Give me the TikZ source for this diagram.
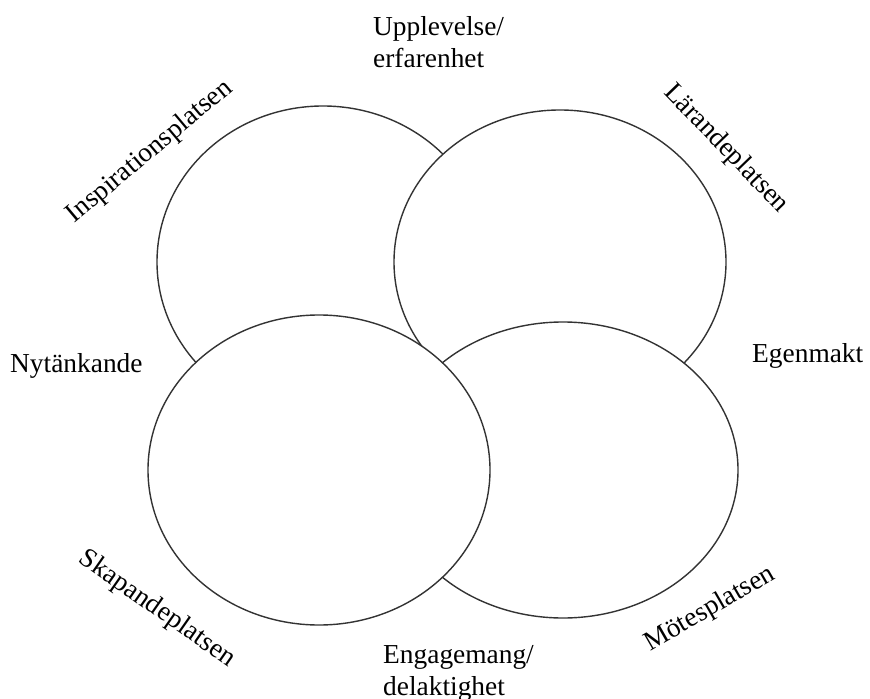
\documentclass[tikz,border=0pt]{standalone}
\usepackage{fontspec}
\setmainfont{Liberation Serif}
\usetikzlibrary{shapes.geometric}
\begin{document}
\begin{tikzpicture}[x=1bp,y=-1bp,
  place/.style={ellipse, draw=black!80, line width=1.4bp, fill=white, inner sep=0pt},
  lbl/.style={font=\fontsize{27.5}{32}\selectfont, inner sep=0pt, text=black},
  mlbl/.style={lbl, align=left, anchor=north west}]
\useasboundingbox (0,0) rectangle (870,699);
% circles (drawn in stacking order)
\node[place, minimum width=332bp, minimum height=312bp] (tl) at (323,262) {};
\node[place, minimum width=332bp, minimum height=304bp] (tr) at (560,262) {};
\node[place, minimum width=350bp, minimum height=296bp] (br) at (563,470) {};
\node[place, minimum width=342bp, minimum height=310bp] (bl) at (319,470) {};
% labels
\node[mlbl] (up) at (373,16) {Upplevelse/\\erfarenhet};
\node[mlbl] (en) at (383,645) {Engagemang/\\delaktighet};
\node[lbl, anchor=base west] (ny) at (10,372) {Nytänkande};
\node[lbl, anchor=base west] (eg) at (752,362) {Egenmakt};
\node[lbl, rotate=40] (ins) at (150,152) {Inspirationsplatsen};
\node[lbl, rotate=-46] (lar) at (726,149) {Lärandeplatsen};
\node[lbl, rotate=-35] (ska) at (157,609) {Skapandeplatsen};
\node[lbl, rotate=30] (mot) at (710,609) {Mötesplatsen};
\end{tikzpicture}
\end{document}
